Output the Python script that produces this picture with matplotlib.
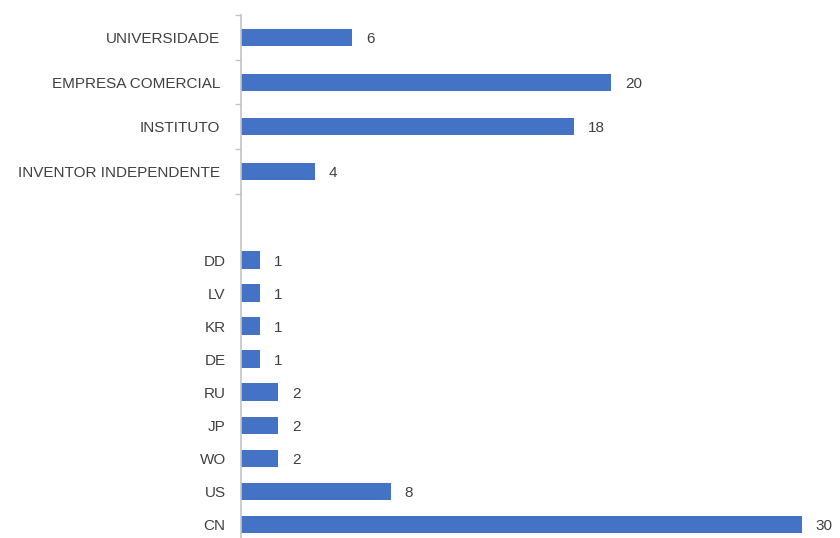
import matplotlib.pyplot as plt

# top chart: type of applicant
tipos = ["UNIVERSIDADE", "EMPRESA COMERCIAL", "INSTITUTO", "INVENTOR INDEPENDENTE"]
tipos_vals = [6, 20, 18, 4]

# bottom chart: country of publication
paises = ["DD", "LV", "KR", "DE", "RU", "JP", "WO", "US", "CN"]
paises_vals = [1, 1, 1, 1, 2, 2, 2, 8, 30]

cor_barra = "#4472C4"
cor_texto = "#404040"
cor_eixo = "#c4c4c4"

plt.rcParams["font.family"] = ["Liberation Sans", "DejaVu Sans"]

W, H = 840, 538
fig = plt.figure(figsize=(W / 100, H / 100), dpi=100)

x0 = 241
largura = 32 * 18.5

# top axes
ax1 = fig.add_axes([x0 / W, 1 - 194 / H, largura / W, 179 / H])
ax1.barh(range(len(tipos)), tipos_vals, height=0.38, color=cor_barra)
ax1.set_ylim(3.5, -0.5)
ax1.set_xlim(0, 32)
ax1.set_yticks(range(len(tipos)))
ax1.set_yticklabels(tipos, fontsize=11, color=cor_texto, va="center_baseline")
ax1.set_yticks([-0.5, 0.5, 1.5, 2.5, 3.5], minor=True)
ax1.tick_params(axis="y", which="major", length=0, pad=15)
ax1.tick_params(axis="y", which="minor", length=4, color=cor_eixo, width=1)
ax1.set_xticks([])
for i, v in enumerate(tipos_vals):
    ax1.annotate(str(v), (v, i), xytext=(10, 0), textcoords="offset points",
                 va="center_baseline", ha="left", fontsize=11, color=cor_texto)

# bottom axes
ax2 = fig.add_axes([x0 / W, 0, largura / W, 344 / H])
ax2.barh(range(len(paises)), paises_vals, height=0.52, color=cor_barra)
ax2.set_ylim(8.42, -2)
ax2.set_xlim(0, 32 * 18.5 / 18.7)
ax2.set_yticks(range(len(paises)))
ax2.set_yticklabels(paises, fontsize=11, color=cor_texto, va="center_baseline")
ax2.tick_params(axis="y", length=0, pad=11)
ax2.set_xticks([])
for i, v in enumerate(paises_vals):
    ax2.annotate(str(v), (v, i), xytext=(10, 0), textcoords="offset points",
                 va="center_baseline", ha="left", fontsize=11, color=cor_texto)

for ax in (ax1, ax2):
    for s in ["top", "right", "bottom"]:
        ax.spines[s].set_visible(False)
    ax.spines["left"].set_color(cor_eixo)
    ax.spines["left"].set_linewidth(1.2)
    ax.patch.set_alpha(0)

plt.savefig("out.png", dpi=100)
